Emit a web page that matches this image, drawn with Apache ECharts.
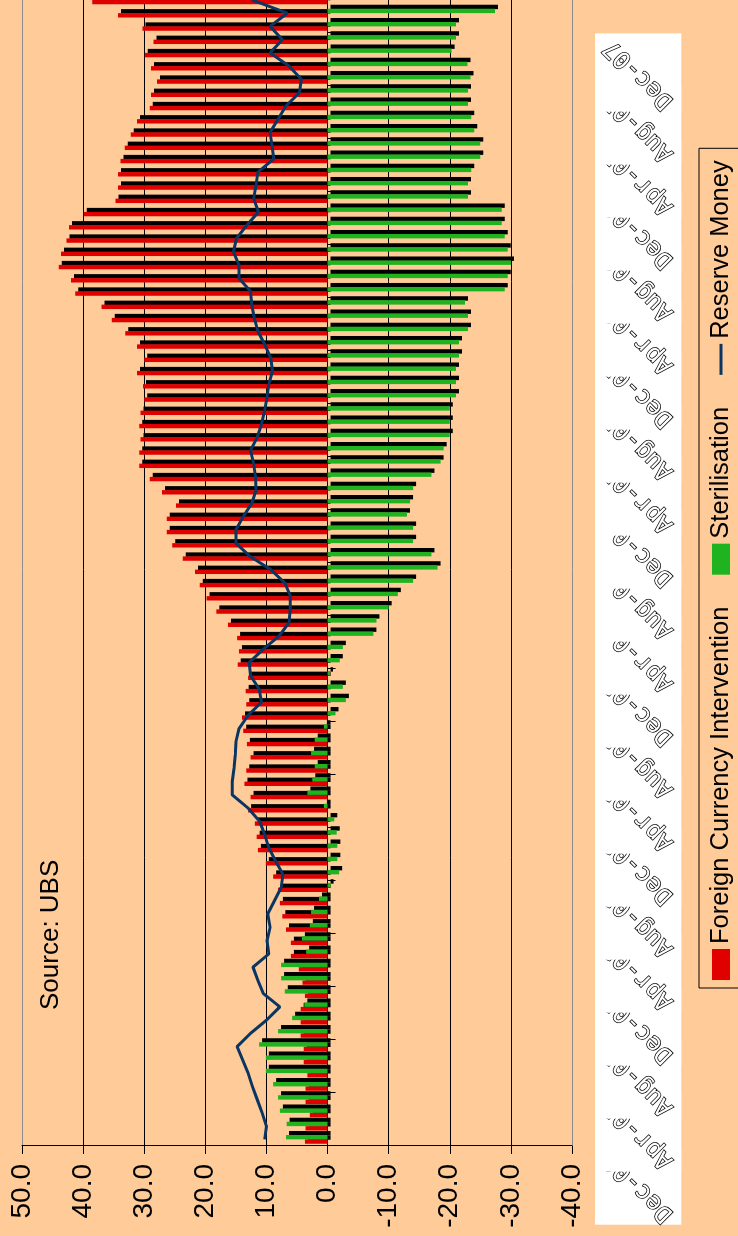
<!DOCTYPE html>
<html>
<head>
<meta charset="utf-8">
<title>Foreign currency intervention and sterilisation</title>
<script src="https://cdn.jsdelivr.net/npm/echarts@6/dist/echarts.min.js"></script>
<style>
  html, body { margin: 0; padding: 0; background: #ffcc99; }
  #frame { position: relative; width: 738px; height: 1236px; overflow: hidden; background: #ffcc99; }
  /* the chart is drawn upright, then turned a quarter left like the source page */
  #chart { position: absolute; left: 0; top: 0; width: 1300px; height: 738px;
           transform-origin: 0 0; transform: translate(0, 1236px) rotate(-90deg); }
</style>
</head>
<body>
<div id="frame"><div id="chart"></div></div>
<script>
  // monthly, Dec-00 .. Feb-08
  var categories = [
    'Dec-00',
    'Jan-01','Feb-01','Mar-01','Apr-01','May-01','Jun-01','Jul-01','Aug-01','Sep-01','Oct-01','Nov-01','Dec-01',
    'Jan-02','Feb-02','Mar-02','Apr-02','May-02','Jun-02','Jul-02','Aug-02','Sep-02','Oct-02','Nov-02','Dec-02',
    'Jan-03','Feb-03','Mar-03','Apr-03','May-03','Jun-03','Jul-03','Aug-03','Sep-03','Oct-03','Nov-03','Dec-03',
    'Jan-04','Feb-04','Mar-04','Apr-04','May-04','Jun-04','Jul-04','Aug-04','Sep-04','Oct-04','Nov-04','Dec-04',
    'Jan-05','Feb-05','Mar-05','Apr-05','May-05','Jun-05','Jul-05','Aug-05','Sep-05','Oct-05','Nov-05','Dec-05',
    'Jan-06','Feb-06','Mar-06','Apr-06','May-06','Jun-06','Jul-06','Aug-06','Sep-06','Oct-06','Nov-06','Dec-06',
    'Jan-07','Feb-07','Mar-07','Apr-07','May-07','Jun-07','Jul-07','Aug-07','Sep-07','Oct-07','Nov-07','Dec-07',
    'Jan-08','Feb-08'
  ];
  var tickLabels = ['Dec-00','Apr-01','Aug-01','Dec-01','Apr-02','Aug-02','Dec-02','Apr-03','Aug-03','Dec-03',
    'Apr-04','Aug-04','Dec-04','Apr-05','Aug-05','Dec-05','Apr-06','Aug-06','Dec-06','Apr-07','Aug-07','Dec-07'];

  var fxIntervention = [
    3.7, 3.6, 2.9, 3.6, 3.6, 3.3, 3.9, 3.9, 4.4, 4.4,
    4.4, 3.7, 4.1, 4.7, 6.0, 6.0, 6.8, 7.4, 7.8, 8.1,
    8.9, 10.1, 11.4, 11.6, 11.9, 13.0, 12.6, 13.6, 13.3, 12.6,
    13.2, 13.8, 14.0, 13.3, 13.4, 13.0, 14.7, 14.5, 14.8, 16.3,
    18.2, 19.8, 20.9, 21.7, 23.7, 25.4, 26.3, 26.3, 24.8, 27.1,
    29.1, 30.8, 30.8, 30.6, 30.8, 30.6, 30.0, 30.2, 31.2, 30.0,
    31.2, 33.1, 35.3, 37.0, 41.3, 42.0, 44.0, 43.6, 42.7, 42.3,
    39.9, 34.7, 34.3, 34.3, 33.9, 33.2, 32.2, 31.2, 29.1, 28.9,
    27.9, 28.9, 29.9, 28.5, 30.3, 34.3, 38.5
  ];
  var sterilisation = [
    6.8, 6.7, 7.8, 8.1, 8.9, 10.1, 10.1, 11.2, 8.1, 5.8,
    3.8, 7.0, 7.6, 7.6, 3.5, 4.2, 2.9, 2.7, 1.4, -0.5,
    -1.9, -1.6, -1.6, -1.5, -1.1, 0.6, 3.3, 2.5, 2.1, 2.7,
    2.1, 0.6, -1.3, -3.0, -2.5, -0.4, -2.0, -2.5, -7.5, -8.0,
    -10.0, -11.5, -14.0, -18.0, -17.0, -14.0, -14.0, -13.0, -13.5, -14.0,
    -17.0, -18.5, -19.0, -20.0, -20.0, -20.0, -21.0, -21.0, -21.0, -21.5,
    -21.5, -23.0, -23.0, -22.5, -29.0, -29.5, -30.0, -29.5, -29.0, -28.5,
    -28.5, -23.0, -23.0, -23.5, -25.0, -25.0, -24.0, -23.5, -23.0, -23.0,
    -23.4, -22.9, -20.3, -21.0, -21.0, -27.4, -25.7
  ];
  var reserveMoney = [
    10.3, 10.0, 10.7, 11.5, 12.3, 13.0, 13.9, 14.8, 12.6, 10.0,
    7.8, 10.5, 11.4, 12.2, 9.6, 9.9, 9.4, 9.8, 8.7, 7.6,
    7.3, 8.5, 9.6, 10.3, 11.1, 13.0, 15.6, 15.6, 15.3, 15.1,
    15.0, 14.5, 13.0, 10.8, 11.2, 12.6, 12.8, 10.5, 7.9, 6.3,
    6.1, 6.1, 7.0, 9.3, 12.7, 15.0, 15.0, 13.8, 12.4, 11.7,
    11.8, 12.1, 12.6, 11.5, 10.8, 10.3, 9.9, 9.6, 9.0, 9.3,
    10.3, 11.4, 12.0, 12.4, 12.6, 14.5, 14.5, 15.4, 14.9, 13.2,
    11.3, 12.1, 11.7, 11.4, 8.8, 9.1, 9.4, 8.1, 6.8, 4.6,
    4.3, 6.3, 9.4, 7.4, 9.4, 6.6, 12.4
  ];

  var labelFont = '24px "DejaVu Sans Mono"';
  var measureCtx = document.createElement('canvas').getContext('2d');
  measureCtx.font = labelFont;

  // date labels: each one sits on a white box, later boxes cover the earlier text
  var labelData = tickLabels.map(function (t) { return [categories.indexOf(t), 0]; });

  function renderDateLabel(params, api) {
    var n = api.value(0);
    var p = api.coord([n, 0]);
    var txt = categories[n];
    var d = measureCtx.measureText(txt).width * 0.7071;
    var ax = p[0] - 17, ay = 608;
    return {
      type: 'group',
      children: [{
        type: 'rect',
        z2: params.dataIndex * 2,
        shape: { x: ax - d - 7, y: ay - 13, width: d + 17, height: d + 25 },
        style: { fill: '#fff' }
      }, {
        type: 'text',
        z2: params.dataIndex * 2 + 1,
        x: ax, y: ay,
        rotation: Math.PI / 4,
        style: {
          text: txt, x: 0, y: 0, align: 'right', verticalAlign: 'middle',
          font: labelFont, fill: '#fff', stroke: '#000', lineWidth: 1.5
        }
      }]
    };
  }

  var barShadow = { shadowColor: '#000', shadowBlur: 0, shadowOffsetX: 4, shadowOffsetY: 3 };

  var chart = echarts.init(document.getElementById('chart'));
  var option = {
    backgroundColor: '#ffcc99',
    animation: false,
    textStyle: { fontFamily: 'Liberation Sans' },
    grid: { left: 90, right: 57.25, top: 22, bottom: 166, outerBoundsMode: 'none' },
    legend: {
      data: [
        { name: 'Foreign Currency Intervention', icon: 'rect' },
        { name: 'Sterilisation', icon: 'rect' },
        { name: 'Reserve Money', icon: 'path://M0,0H31V3H0Z' }
      ],
      left: 248, top: 699,
      padding: [9, 12, 30, 8],
      itemWidth: 31, itemHeight: 18, itemGap: 32,
      borderColor: '#000', borderWidth: 1,
      selectedMode: false,
      itemStyle: { shadowColor: 'rgba(0,0,0,0)', shadowBlur: 0, shadowOffsetX: 0, shadowOffsetY: 0 },
      textStyle: { fontSize: 25.5, color: '#000', fontFamily: 'Liberation Sans' }
    },
    graphic: [{
      type: 'text', x: 226, y: 51,
      style: { text: 'Source: UBS', x: 0, y: 0, verticalAlign: 'middle',
               font: '26px "Liberation Sans"', fill: '#000' }
    }],
    xAxis: {
      type: 'category',
      data: categories,
      axisLine: { show: true, onZero: true, lineStyle: { color: '#000', width: 1 } },
      axisTick: { show: true, interval: 3, length: 8, lineStyle: { color: '#000' } },
      axisLabel: { show: false },
      splitLine: { show: false }
    },
    yAxis: {
      type: 'value',
      min: -40, max: 50, interval: 10,
      axisLine: { show: true, lineStyle: { color: '#000', width: 1 } },
      axisTick: { show: true, length: 8, lineStyle: { color: '#000' } },
      axisLabel: {
        margin: 18, fontSize: 28, color: '#000', fontFamily: 'Liberation Sans',
        formatter: function (v) { return v.toFixed(1); }
      },
      splitLine: {
        show: true,
        lineStyle: { width: 1, color: ['#8c8c8c', '#000', '#000', '#000', '#000', '#000', '#000', '#000', '#000', '#8c8c8c'] }
      }
    },
    series: [{
      name: 'Foreign Currency Intervention',
      type: 'bar',
      data: fxIntervention,
      barWidth: 4.4,
      barGap: '0%',
      itemStyle: Object.assign({ color: '#e00000' }, barShadow)
    }, {
      name: 'Sterilisation',
      type: 'bar',
      data: sterilisation,
      barWidth: 4.4,
      barGap: '0%',
      itemStyle: Object.assign({ color: '#1fb41f' }, barShadow)
    }, {
      name: 'Reserve Money',
      type: 'line',
      data: reserveMoney,
      symbol: 'none',
      showSymbol: false,
      z: 5,
      lineStyle: { color: '#0b3563', width: 3 },
      itemStyle: { color: '#0b3563' }
    }, {
      type: 'custom',
      renderItem: renderDateLabel,
      data: labelData,
      clip: false,
      silent: true,
      z: 6
    }]
  };
  chart.setOption(option);
</script>
</body>
</html>
